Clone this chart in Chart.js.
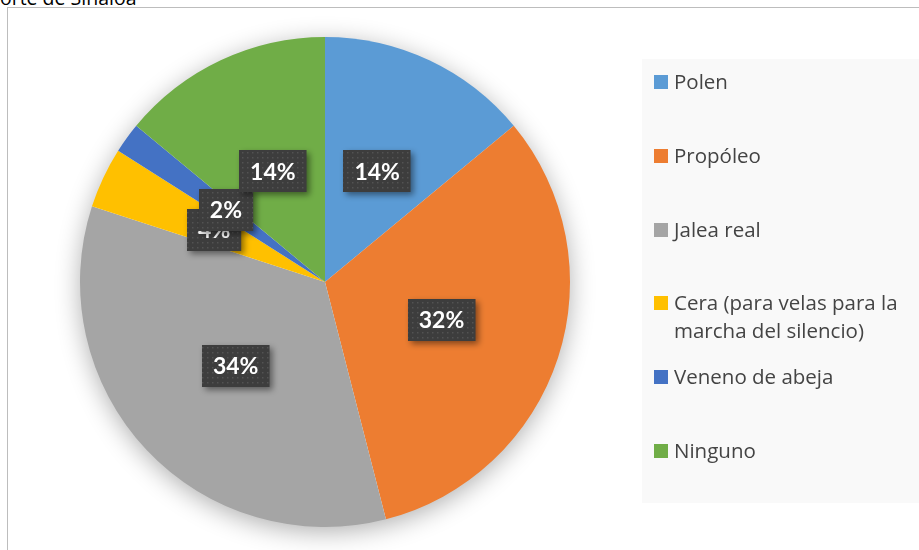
<!DOCTYPE html>
<html>
<head>
<meta charset="utf-8">
<script src="https://cdn.jsdelivr.net/npm/chart.js@4.4.0/dist/chart.umd.min.js"></script>
<style>
  html, body { margin: 0; padding: 0; background: #ffffff; }
  #wrap { position: relative; width: 919px; height: 550px; overflow: hidden; background: #fff; }
  #title { position: absolute; left: -12px; top: -12px; font-family: "Open Sans", sans-serif; font-size: 19.5px; line-height: 19.5px; color: #000; white-space: nowrap; }
  #frame { position: absolute; left: 7px; top: 7px; width: 2000px; height: 2000px; border-left: 1px solid #bdbdbd; border-top: 1px solid #bdbdbd; }
  canvas { position: absolute; left: 0; top: 0; }
  #legend { position: absolute; left: 642px; top: 59px; width: 300px; height: 444px; background: #f9f9f9; box-sizing: border-box; padding-top: 8px; font-family: "Open Sans", sans-serif; font-size: 20.5px; line-height: 28px; color: #444444; }
  .item { position: relative; height: 73.8px; padding-left: 32px; }
  .item .sw { position: absolute; left: 12px; top: 8px; width: 14px; height: 14px; }
  .item .tx { width: 240px; }
</style>
</head>
<body>
<div id="wrap">
  <div id="title">norte de Sinaloa</div>
  <div id="frame"></div>
  <canvas id="c" width="919" height="550"></canvas>
  <div id="legend"></div>
</div>
<script>
const categories = ["Polen", "Propóleo", "Jalea real", "Cera (para velas para la marcha del silencio)", "Veneno de abeja", "Ninguno"];
const values = [14, 32, 34, 4, 2, 14];
const colors = ["#5B9BD5", "#ED7D31", "#A5A5A5", "#FFC000", "#4472C4", "#70AD47"];

// HTML legend
const legendEl = document.getElementById('legend');
categories.forEach((c, i) => {
  const it = document.createElement('div');
  it.className = 'item';
  const sw = document.createElement('span');
  sw.className = 'sw';
  sw.style.background = colors[i];
  const tx = document.createElement('div');
  tx.className = 'tx';
  tx.textContent = c;
  it.appendChild(sw);
  it.appendChild(tx);
  legendEl.appendChild(it);
});

// dotted pattern for label boxes
function makePattern(ctx) {
  const p = document.createElement('canvas');
  p.width = 5; p.height = 5;
  const pc = p.getContext('2d');
  pc.fillStyle = '#3d3d3d';
  pc.fillRect(0, 0, 5, 5);
  pc.fillStyle = '#535353';
  pc.fillRect(2, 2, 1.5, 1.5);
  return ctx.createPattern(p, 'repeat');
}

const pieShadow = {
  id: 'pieShadow',
  beforeDatasetsDraw(chart) {
    const meta = chart.getDatasetMeta(0);
    const a = meta.data[0];
    if (!a) return;
    const ctx = chart.ctx;
    ctx.save();
    ctx.shadowColor = 'rgba(0,0,0,0.33)';
    ctx.shadowBlur = 26;
    ctx.shadowOffsetX = 0;
    ctx.shadowOffsetY = 5;
    ctx.fillStyle = '#ffffff';
    ctx.beginPath();
    ctx.arc(a.x, a.y, a.outerRadius - 1, 0, Math.PI * 2);
    ctx.fill();
    ctx.restore();
  }
};

const boxLabels = {
  id: 'boxLabels',
  afterDatasetsDraw(chart) {
    const ctx = chart.ctx;
    const meta = chart.getDatasetMeta(0);
    const pat = makePattern(ctx);
    ctx.save();
    ctx.font = 'bold 23px Lato, "Open Sans", sans-serif';
    meta.data.forEach((arc, i) => {
      const pos = arc.tooltipPosition();
      const txt = values[i] + '%';
      const w = ctx.measureText(txt).width + 22;
      const h = 42;
      const x = Math.round(pos.x - w / 2), y = Math.round(pos.y - h / 2);
      ctx.save();
      ctx.shadowColor = 'rgba(0,0,0,0.45)';
      ctx.shadowBlur = 6;
      ctx.shadowOffsetX = 3;
      ctx.shadowOffsetY = 3;
      ctx.fillStyle = pat;
      ctx.fillRect(x, y, w, h);
      ctx.restore();
      ctx.fillStyle = '#ffffff';
      ctx.textAlign = 'center';
      ctx.textBaseline = 'middle';
      ctx.fillText(txt, pos.x, pos.y + 1);
    });
    ctx.restore();
  }
};

new Chart(document.getElementById('c'), {
  type: 'pie',
  data: {
    labels: categories,
    datasets: [{
      data: values,
      backgroundColor: colors,
      borderWidth: 0,
      hoverOffset: 0
    }]
  },
  options: {
    responsive: false,
    animation: false,
    layout: { padding: { left: 80, top: 37, right: 349, bottom: 23 } },
    plugins: {
      legend: { display: false },
      tooltip: { enabled: false }
    }
  },
  plugins: [pieShadow, boxLabels]
});
</script>
</body>
</html>
